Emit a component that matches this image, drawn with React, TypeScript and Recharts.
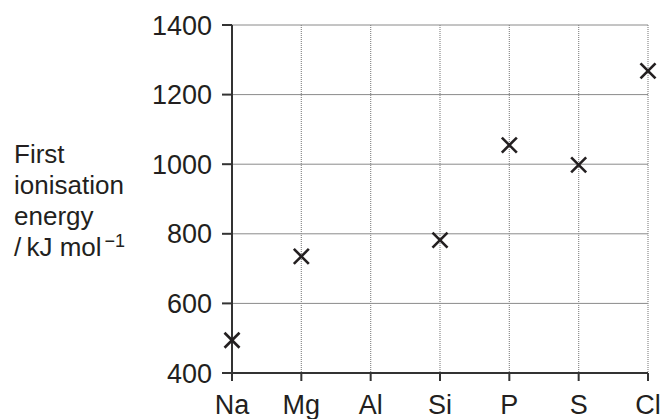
import React from "react";
import { LineChart, Line, XAxis, YAxis, CartesianGrid } from "recharts";

const elements = ["Na", "Mg", "Al", "Si", "P", "S", "Cl"];
const firstIonisation = [494, 735, null, 782, 1055, 998, 1268];
const yTicks = [400, 600, 800, 1000, 1200, 1400];

const data = elements.map((el, i) => ({ el, ie: firstIonisation[i] }));

const font = "'Liberation Sans', Arial, sans-serif";
const ink = "#231f20";

const Cross = (props: any) => {
  const { cx, cy, index } = props;
  if (cx == null || cy == null || props.value == null) return <g key={`c-${index}`} />;
  const s = 7.5;
  return (
    <g key={`c-${index}`} stroke={ink} strokeWidth={2.6}>
      <line x1={cx - s} y1={cy - s} x2={cx + s} y2={cy + s} />
      <line x1={cx - s} y1={cy + s} x2={cx + s} y2={cy - s} />
    </g>
  );
};

const App = () => {
  const tickStyle = { fontSize: 27, fill: ink, fontFamily: font };
  return (
    <div style={{ position: "absolute", left: 0, top: 0, width: 663, height: 419 }}>
      <LineChart
        width={663}
        height={419}
        data={data}
        margin={{ top: 25, right: 15, bottom: 6, left: 152 }}
      >
        <CartesianGrid vertical={false} stroke="#8a8a8a" strokeWidth={1} />
        <CartesianGrid horizontal={false} stroke="#8a8a8a" strokeDasharray="1 1" strokeWidth={1.2} />
        <XAxis
          dataKey="el"
          interval={0}
          height={40}
          tickSize={8}
          tickMargin={14}
          tick={tickStyle}
          axisLine={{ stroke: "#333", strokeWidth: 2 }}
          tickLine={{ stroke: "#333", strokeWidth: 2 }}
        />
        <YAxis
          domain={[400, 1400]}
          ticks={yTicks}
          width={80}
          tickSize={10}
          tickMargin={10}
          tick={tickStyle}
          allowDataOverflow
          axisLine={{ stroke: "#333", strokeWidth: 2 }}
          tickLine={{ stroke: "#333", strokeWidth: 2 }}
        />
        <Line
          dataKey="ie"
          stroke="none"
          dot={Cross}
          activeDot={false}
          isAnimationActive={false}
        />
      </LineChart>
      <div
        style={{
          position: "absolute",
          left: 14,
          top: 139,
          fontFamily: font,
          fontSize: 26,
          lineHeight: "31px",
          color: ink,
        }}
      >
        <div>First</div>
        <div>ionisation</div>
        <div>energy</div>
        <div>
          /{"\u2009"}kJ mol<sup style={{ fontSize: 18, verticalAlign: "9px", lineHeight: 0, marginLeft: 3 }}>−1</sup>
        </div>
      </div>
    </div>
  );
};

export default App;
